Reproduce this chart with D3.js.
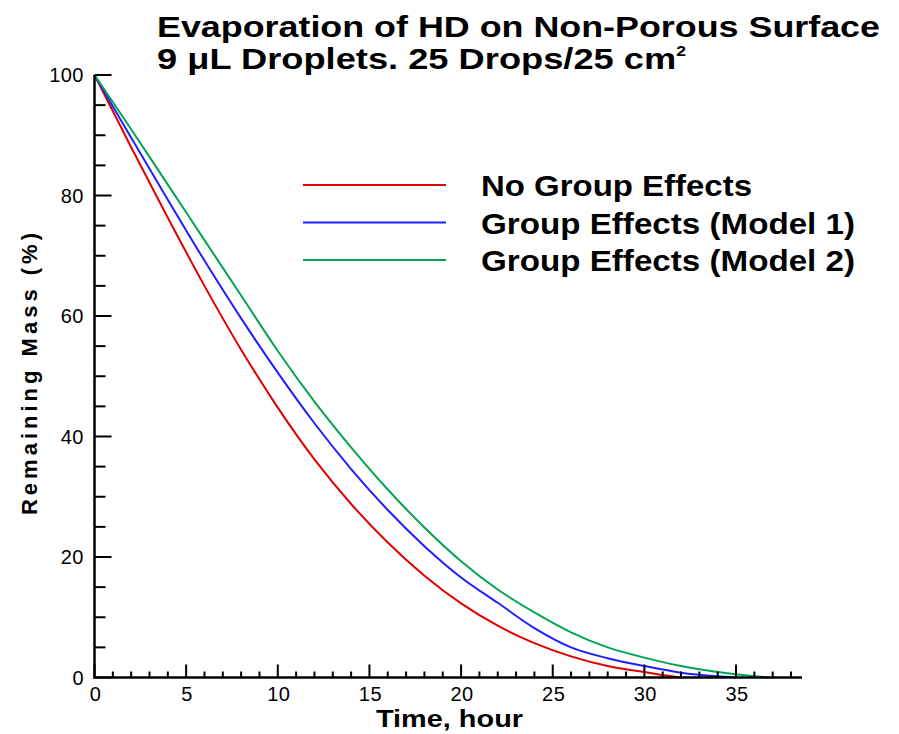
<!DOCTYPE html>
<html>
<head>
<meta charset="utf-8">
<script src="https://cdn.jsdelivr.net/npm/d3@7/dist/d3.min.js"></script>
<style>
  html, body { margin: 0; padding: 0; background: #fff; }
  svg { display: block; }
  text { font-family: "Liberation Sans", Arial, sans-serif; fill: #000; }
</style>
</head>
<body>
<svg id="chart" width="899" height="734"></svg>
<script>
// ---- data ----
const titleLine1 = "Evaporation of HD on Non-Porous Surface";
const titleLine2 = "9 \u03bcL Droplets. 25 Drops/25 cm";
const titleSup = "2";
const xLabel = "Time, hour";
const yLabel = "Remaining Mass (%)";
const seriesNames = ["No Group Effects", "Group Effects (Model 1)", "Group Effects (Model 2)"];
const seriesColors = ["#e00000", "#1f1fff", "#00a651"];

const timeRed   = [0, 2, 4, 6, 8, 10, 12, 14, 16, 18, 20, 22, 24, 26, 28, 30, 31, 32];
const massRed   = [100, 88.0, 76.3, 65.0, 54.4, 44.8, 36.2, 28.8, 22.4, 16.9, 12.3, 8.6, 5.7, 3.5, 1.9, 0.9, 0.4, 0];
const timeBlue  = [0, 2, 4, 6, 8, 10, 12, 14, 16, 18, 20, 22, 24, 26, 28, 30, 32, 34, 35];
const massBlue  = [100, 89.6, 79.3, 69.2, 59.6, 50.6, 42.2, 34.6, 27.8, 21.8, 16.6, 12.4, 8.2, 5.0, 3.2, 1.9, 0.8, 0.2, 0];
const timeGreen = [0, 2, 4, 6, 8, 10, 12, 14, 16, 18, 20, 22, 24, 26, 28, 30, 32, 34, 36, 36.8];
const massGreen = [100, 91.0, 81.8, 72.6, 63.4, 54.2, 45.8, 38.2, 31.2, 24.9, 19.3, 14.6, 10.8, 7.5, 5.0, 3.3, 1.9, 0.9, 0.2, 0];

const xMajorTicks = [0, 5, 10, 15, 20, 25, 30, 35];
const xMinorTicks = d3.range(0, 39, 1);
const yMajorTicks = [0, 20, 40, 60, 80, 100];
const yMinorTicks = d3.range(0, 101, 5);

// ---- layout ----
const svg = d3.select("#chart");
svg.append("rect").attr("width", 899).attr("height", 734).attr("fill", "#fff");

const x = d3.scaleLinear().domain([0, 38.6]).range([94.5, 802]);
const y = d3.scaleLinear().domain([0, 100]).range([677.5, 75]);

// curves
const seriesData = [
  timeRed.map((t, i) => [t, massRed[i]]),
  timeBlue.map((t, i) => [t, massBlue[i]]),
  timeGreen.map((t, i) => [t, massGreen[i]])
];
const line = d3.line().x(d => x(d[0])).y(d => y(d[1])).curve(d3.curveMonotoneX);
svg.append("g").selectAll("path").data(seriesData).join("path")
  .attr("d", line)
  .attr("fill", "none")
  .attr("stroke", (d, i) => seriesColors[i])
  .attr("stroke-width", 2);

// axes: ticks drawn inward
const gx = svg.append("g");
gx.selectAll("line.minor").data(xMinorTicks.filter(v => v % 5 !== 0)).join("line")
  .attr("x1", d => x(d)).attr("x2", d => x(d))
  .attr("y1", y(0)).attr("y2", y(0) - 6)
  .attr("stroke", "#000").attr("stroke-width", 2);
gx.selectAll("line.major").data(xMajorTicks).join("line")
  .attr("x1", d => x(d)).attr("x2", d => x(d))
  .attr("y1", y(0)).attr("y2", y(0) - 13)
  .attr("stroke", "#000").attr("stroke-width", 2);
gx.selectAll("text").data(xMajorTicks).join("text")
  .attr("x", d => x(d) + 1).attr("y", 701)
  .attr("text-anchor", "middle")
  .attr("font-size", 20)
  .attr("letter-spacing", 0.5)
  .text(d => d);

const gy = svg.append("g");
gy.selectAll("line.minor").data(yMinorTicks.filter(v => v % 20 !== 0)).join("line")
  .attr("x1", x(0)).attr("x2", x(0) + 11)
  .attr("y1", d => y(d)).attr("y2", d => y(d))
  .attr("stroke", "#000").attr("stroke-width", 2);
gy.selectAll("line.major").data(yMajorTicks).join("line")
  .attr("x1", x(0)).attr("x2", x(0) + 17)
  .attr("y1", d => y(d)).attr("y2", d => y(d))
  .attr("stroke", "#000").attr("stroke-width", 2);
gy.selectAll("text").data(yMajorTicks).join("text")
  .attr("x", 84).attr("y", d => y(d) + 7)
  .attr("text-anchor", "end")
  .attr("font-size", 20)
  .attr("letter-spacing", 0.5)
  .text(d => d);

// axis lines
svg.append("line").attr("x1", x(0)).attr("x2", x(0)).attr("y1", y(100)).attr("y2", y(0) + 1)
  .attr("stroke", "#000").attr("stroke-width", 2.5);
svg.append("line").attr("x1", x(0) - 1).attr("x2", x(38.6)).attr("y1", y(0)).attr("y2", y(0))
  .attr("stroke", "#000").attr("stroke-width", 2.5);

// axis titles
svg.append("text").attr("x", 376).attr("y", 727)
  .attr("font-size", 24).attr("font-weight", "bold")
  .attr("textLength", 147).attr("lengthAdjust", "spacingAndGlyphs")
  .text(xLabel);
svg.append("text")
  .attr("transform", "translate(37,515) rotate(-90)")
  .attr("font-size", 22).attr("font-weight", "bold")
  .attr("textLength", 282).attr("lengthAdjust", "spacing")
  .text(yLabel);

// title: line 1, and line 2 with its superscript in one text element
svg.append("text").attr("x", 157).attr("y", 36.5)
  .attr("font-size", 29).attr("font-weight", "bold")
  .attr("textLength", 723).attr("lengthAdjust", "spacingAndGlyphs")
  .text(titleLine1);
const t2 = svg.append("text").attr("x", 157).attr("y", 69)
  .attr("font-size", 29).attr("font-weight", "bold")
  .attr("textLength", 529).attr("lengthAdjust", "spacingAndGlyphs");
t2.append("tspan").text(titleLine2);
t2.append("tspan").attr("font-size", 14).attr("dy", -13).text(titleSup);

// legend
const legendY = [185, 222.5, 260];
const legendW = [271, 374, 374];
const lg = svg.append("g");
lg.selectAll("line").data(seriesNames).join("line")
  .attr("x1", 303).attr("x2", 446)
  .attr("y1", (d, i) => legendY[i]).attr("y2", (d, i) => legendY[i])
  .attr("stroke", (d, i) => seriesColors[i]).attr("stroke-width", 2);
lg.selectAll("text").data(seriesNames).join("text")
  .attr("x", 481).attr("y", (d, i) => legendY[i] + 11)
  .attr("font-size", 30).attr("font-weight", "bold")
  .attr("textLength", (d, i) => legendW[i]).attr("lengthAdjust", "spacingAndGlyphs")
  .text(d => d);
</script>
</body>
</html>
